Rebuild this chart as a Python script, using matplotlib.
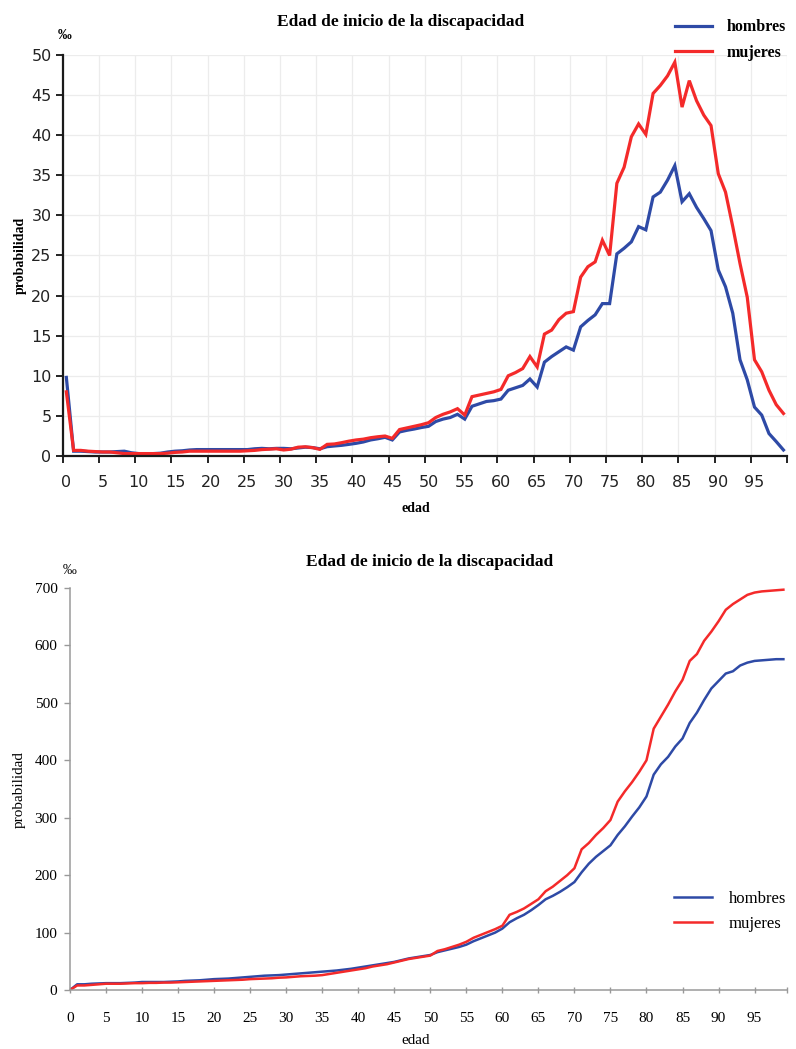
import matplotlib
matplotlib.use("Agg")
import matplotlib.pyplot as plt
import numpy as np

edad = list(range(100))

hombres_tasa = [9.8, 0.6, 0.6, 0.55, 0.5, 0.5, 0.5, 0.55, 0.6, 0.4,
                0.3, 0.3, 0.3, 0.35, 0.5, 0.6, 0.65, 0.75, 0.8, 0.8,
                0.8, 0.8, 0.8, 0.8, 0.8, 0.8, 0.9, 0.95, 0.9, 0.95,
                0.95, 0.9, 1.0, 1.1, 1.05, 0.9, 1.16, 1.25, 1.33, 1.45,
                1.58, 1.75, 2.0, 2.15, 2.33, 2.0, 3.0, 3.2, 3.36, 3.55,
                3.7, 4.3, 4.6, 4.8, 5.2, 4.6, 6.2, 6.5, 6.8, 6.9,
                7.1, 8.2, 8.5, 8.8, 9.6, 8.6, 11.7, 12.4, 13.0, 13.6,
                13.2, 16.1, 16.9, 17.6, 19.0, 19.0, 25.2, 25.9, 26.7, 28.6,
                28.2, 32.3, 32.9, 34.4, 36.2, 31.7, 32.7, 31.0, 29.6, 28.1,
                23.2, 21.1, 17.8, 12.0, 9.5, 6.1, 5.1, 2.8, 1.8, 0.75]

mujeres_tasa = [8.0, 0.7, 0.7, 0.6, 0.55, 0.5, 0.5, 0.4, 0.3, 0.3,
                0.3, 0.3, 0.3, 0.3, 0.35, 0.45, 0.5, 0.6, 0.6, 0.6,
                0.6, 0.6, 0.6, 0.6, 0.6, 0.65, 0.7, 0.8, 0.85, 0.9,
                0.75, 0.85, 1.1, 1.15, 1.04, 0.83, 1.45, 1.5, 1.66, 1.85,
                2.0, 2.1, 2.28, 2.4, 2.49, 2.2, 3.3, 3.5, 3.7, 3.9,
                4.15, 4.8, 5.2, 5.5, 5.9, 5.1, 7.4, 7.6, 7.8, 8.0,
                8.3, 10.0, 10.4, 10.9, 12.4, 11.1, 15.2, 15.7, 17.0, 17.8,
                18.0, 22.3, 23.6, 24.2, 26.9, 25.0, 34.0, 36.0, 39.8, 41.4,
                40.1, 45.2, 46.2, 47.4, 49.1, 43.5, 46.8, 44.3, 42.5, 41.2,
                35.2, 32.9, 28.6, 24.0, 19.8, 12.0, 10.5, 8.2, 6.4, 5.3]

hombres_acum = [0, 10, 10, 11, 11.5, 12, 12, 12, 12.5, 13,
                14, 14, 14, 14, 14.5, 15, 16, 16.5, 17, 18,
                19, 19.5, 20, 21, 22, 23, 24, 25, 25.5, 26,
                27, 28, 29, 30, 31, 32, 33, 34, 35.5, 37,
                39, 41, 43, 45, 47, 49, 52, 55, 57, 59,
                61, 66, 69, 72, 75, 79, 85, 90, 95, 100,
                107, 118, 125, 131, 139, 148, 158, 164, 171, 179,
                188, 205, 220, 232, 242, 252, 270, 285, 302, 318,
                337, 375, 393, 406, 424, 438, 465, 483, 505, 525,
                538, 551, 555, 565, 570, 573, 574, 575, 576, 576]

mujeres_acum = [0, 8, 8, 9, 10, 11, 11, 11, 11.5, 12,
                12, 12.5, 12.5, 13, 13, 13.5, 14, 14.5, 15, 15.5,
                16, 16.5, 17, 17.5, 18, 19, 19.5, 20, 20.5, 21.5,
                22, 23, 24, 24.5, 25, 26, 28, 30, 32, 34,
                36, 38, 41, 43, 45, 48, 51, 54, 56, 58,
                60, 68, 71, 75, 79, 84, 91, 96, 101, 106,
                112, 131, 136, 142, 150, 158, 172, 180, 190, 200,
                212, 245, 256, 270, 282, 296, 328, 346, 362, 380,
                400, 455, 476, 497, 520, 540, 573, 585, 608, 624,
                642, 662, 672, 680, 688, 692, 694, 695, 696, 697]

titulo = "Edad de inicio de la discapacidad"
etiquetas = ["hombres", "mujeres"]
x_ticks_lbl = list(range(0, 100, 5))

AZUL = "#2e4aa6"
ROJO = "#f42a2a"
SERIF = ["Liberation Serif", "DejaVu Serif"]

fig = plt.figure(figsize=(7.96, 10.49), dpi=100)

# ---------------- top chart ----------------
ax1 = fig.add_axes([0.0788, 0.5653, 0.9100, 0.3823])
xa = np.array(edad) + 0.5
l1, = ax1.plot(xa, hombres_tasa, color=AZUL, lw=2.3, solid_joinstyle="miter")
l2, = ax1.plot(xa, mujeres_tasa, color=ROJO, lw=2.3, solid_joinstyle="miter")
ax1.set_xlim(0, 100)
ax1.set_ylim(0, 50)
ax1.set_xticks(np.arange(0, 101, 5))
ax1.set_xticklabels([])
ax1.set_xticks(np.array(x_ticks_lbl) + 0.5, minor=True)
ax1.set_xticklabels([str(v) for v in x_ticks_lbl], minor=True)
ax1.tick_params(axis="x", which="minor", length=0, pad=14, labelsize=11.5,
                labelcolor="#222222")
ax1.tick_params(axis="x", which="major", length=5, width=1.4, color="#222222")
ax1.set_yticks(np.arange(0, 51, 5))
ax1.tick_params(axis="y", length=5, width=1.4, color="#222222", labelsize=11.5,
                labelcolor="#222222", pad=3)
ax1.grid(True, which="major", color="#ececec", lw=0.9)
for s in ["top", "right"]:
    ax1.spines[s].set_visible(False)
for s in ["left", "bottom"]:
    ax1.spines[s].set_linewidth(1.6)
    ax1.spines[s].set_color("#1a1a1a")
ax1.set_axisbelow(True)
fig.text(0.503, 0.979, titulo, ha="center", va="center", fontsize=12.5,
         fontweight="bold", family=SERIF)
fig.text(0.081, 0.966, "‰", ha="center", va="center", fontsize=10,
         fontweight="bold", family=SERIF)
fig.text(0.026, 0.757, "probabilidad", ha="center", va="center", rotation=90,
         fontsize=10, fontweight="bold", family=SERIF)
fig.text(0.522, 0.5155, "edad", ha="center", va="center", fontsize=10,
         fontweight="bold", family=SERIF)
leg1 = fig.legend([l1, l2], etiquetas, loc="upper right",
                  bbox_to_anchor=(1.005, 0.9955), frameon=False,
                  prop={"family": SERIF, "size": 11.5, "weight": "bold"},
                  handlelength=2.3, handletextpad=0.9, labelspacing=0.6)

# ---------------- bottom chart ----------------
ax2 = fig.add_axes([0.0879, 0.0562, 0.9008, 0.3833])
l3, = ax2.plot(edad, hombres_acum, color=AZUL, lw=1.8)
l4, = ax2.plot(edad, mujeres_acum, color=ROJO, lw=1.8)
ax2.set_xlim(0, 99.5)
ax2.set_ylim(0, 700)
ax2.set_xticks(list(x_ticks_lbl) + [99.5])
ax2.set_xticklabels([str(v) for v in x_ticks_lbl] + [""])
ax2.set_yticks(np.arange(0, 701, 100))
ax2.tick_params(axis="x", direction="inout", length=5, width=1, color="#999999",
                labelsize=11, pad=13)
ax2.tick_params(axis="y", direction="out", length=4, width=1, color="#999999",
                labelsize=11, pad=5)
for lab in ax2.get_xticklabels() + ax2.get_yticklabels():
    lab.set_family(SERIF)
for s in ["top", "right"]:
    ax2.spines[s].set_visible(False)
for s in ["left", "bottom"]:
    ax2.spines[s].set_linewidth(1.1)
    ax2.spines[s].set_color("#9a9a9a")
fig.text(0.54, 0.4645, titulo, ha="center", va="center", fontsize=12.5,
         fontweight="bold", family=SERIF)
fig.text(0.088, 0.4565, "‰", ha="center", va="center", fontsize=10,
         family=SERIF)
fig.text(0.024, 0.247, "probabilidad", ha="center", va="center", rotation=90,
         fontsize=11, family=SERIF)
fig.text(0.522, 0.0085, "edad", ha="center", va="center", fontsize=11,
         family=SERIF)
leg2 = ax2.legend([l3, l4], etiquetas, loc="center right",
                  bbox_to_anchor=(1.02, 0.195), frameon=False,
                  prop={"family": SERIF, "size": 12},
                  handlelength=2.3, handletextpad=1.0, labelspacing=0.55)

fig.savefig("out.png", dpi=100)
